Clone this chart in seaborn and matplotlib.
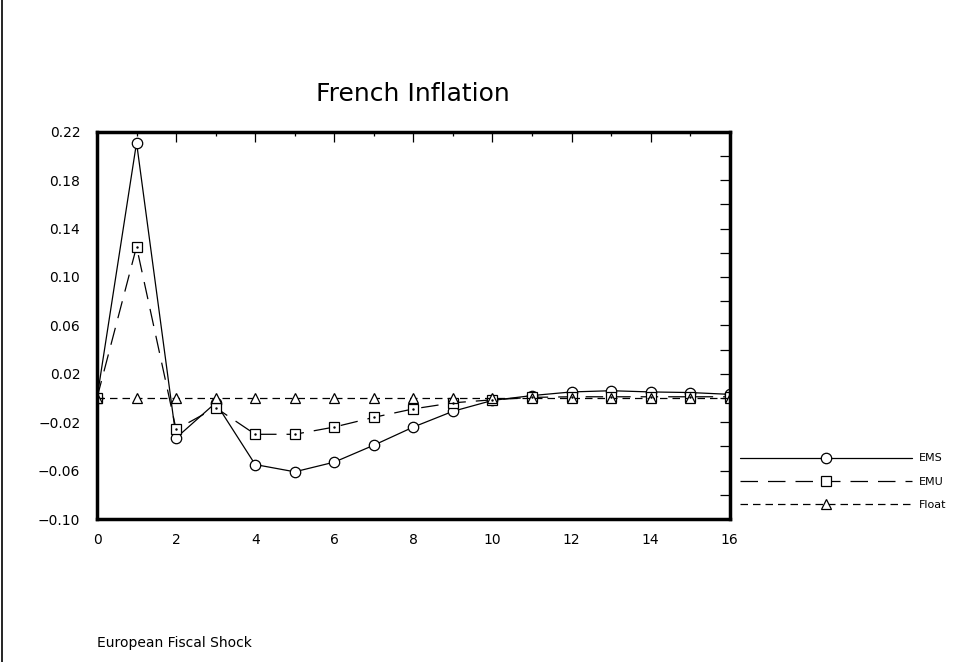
import numpy as np
import pandas as pd
import matplotlib
matplotlib.use("Agg")
import matplotlib.pyplot as plt
from matplotlib.lines import Line2D
import seaborn as sns

# impulse responses
periods = list(range(17))
ems = [0.0, 0.211, -0.033, -0.004, -0.055, -0.061, -0.053, -0.039, -0.024,
       -0.011, -0.002, 0.002, 0.005, 0.006, 0.005, 0.0045, 0.003]
emu = [0.0, 0.125, -0.026, -0.008, -0.030, -0.030, -0.024, -0.016, -0.009,
       -0.004, -0.0015, 0.0005, 0.001, 0.001, 0.001, 0.001, 0.001]
flt = [0.0] * 17

y_major = [-0.10, -0.06, -0.02, 0.02, 0.06, 0.10, 0.14, 0.18, 0.22]
y_labels = ["\u22120.10", "\u22120.06", "\u22120.02", "0.02", "0.06",
            "0.10", "0.14", "0.18", "0.22"]
x_major = [0, 2, 4, 6, 8, 10, 12, 14, 16]

sns.set_style("white")
plt.rcParams["font.family"] = ["DejaVu Sans"]
plt.rcParams["text.color"] = "black"
plt.rcParams["xtick.color"] = "black"
plt.rcParams["ytick.color"] = "black"

fig = plt.figure(figsize=(9.72, 6.62), dpi=100)
ax = fig.add_axes([0.0998, 0.216, 0.651, 0.585])

df = pd.DataFrame({"t": periods, "EMS": ems, "EMU": emu, "Float": flt})

series = [
    ("EMS", "o", "-", 7.5),
    ("EMU", "s", (0, (14, 8)), 6.5),
    ("Float", "^", (0, (6, 4)), 7),
]
for name, mk, ls, ms in series:
    sns.lineplot(data=df, x="t", y=name, ax=ax, color="black", lw=0.9,
                 ls=ls, marker=mk, markersize=ms, markerfacecolor="white",
                 markeredgecolor="black", markeredgewidth=0.9, label=name,
                 legend=False)
# little dot inside the squares
ax.plot(df["t"], df["EMU"], ls="none", marker=".", ms=1.5, color="black")

ax.set_xlim(0, 16)
ax.set_ylim(-0.10, 0.22)
ax.set_xticks(x_major)
ax.set_xticks(range(1, 16, 2), minor=True)
ax.set_yticks(y_major)
ax.set_yticklabels(y_labels)
ax.set_yticks(np.arange(-0.08, 0.21, 0.04), minor=True)
ax.tick_params(axis="x", which="major", direction="in", length=7, width=0.9,
               top=True, pad=10, labelsize=10)
ax.tick_params(axis="x", which="minor", direction="in", length=3, width=0.9,
               top=True)
ax.tick_params(axis="y", which="both", direction="in", length=7, width=0.9,
               right=True, pad=12, labelsize=10)
ax.set_xlabel("")
ax.set_ylabel("")
for sp in ax.spines.values():
    sp.set_linewidth(2.5)
    sp.set_color("black")

fig.text(0.425, 0.858, "French Inflation", ha="center", va="center",
         fontsize=18)
fig.text(0.1, 0.029, "European Fiscal Shock", ha="left", va="center",
         fontsize=10)

handles = [
    Line2D([], [], color="black", lw=0.9, ls=ls, marker=mk, ms=ms,
           mfc="white", mec="black", mew=0.9)
    for name, mk, ls, ms in series
]
fig.legend(handles, [s[0] for s in series], loc="upper left",
           bbox_to_anchor=(0.761, 0.315), frameon=False, fontsize=8,
           handlelength=15.5, handletextpad=0.6, labelspacing=1.2,
           numpoints=1, borderaxespad=0, borderpad=0)

# page border on the left
fig.add_artist(Line2D([0.002, 0.002], [0, 1], color="black", lw=1.2,
                      transform=fig.transFigure))

fig.savefig("out.png", dpi=100)
